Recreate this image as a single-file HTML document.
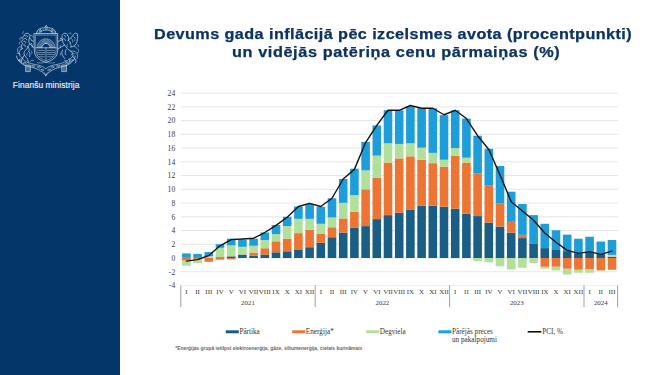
<!DOCTYPE html>
<html><head><meta charset="utf-8">
<style>
html,body{margin:0;padding:0;}
body{width:665px;height:375px;overflow:hidden;background:#fff;position:relative;font-family:"Liberation Sans",sans-serif;}
#side{position:absolute;left:0;top:0;width:120px;height:375px;background:#04366a;}
#brand{position:absolute;left:12.8px;top:79.5px;color:#edf1f6;font-size:8.4px;white-space:nowrap;letter-spacing:0.08px;-webkit-text-stroke:0.15px #edf1f6;}
.t{position:absolute;color:#0b3363;font-weight:bold;font-size:14px;white-space:nowrap;transform-origin:0 0;line-height:16px;-webkit-text-stroke:0.25px #0b3363;}
#chart{position:absolute;left:0;top:0;}
.ax{font-family:"Liberation Serif",serif;font-size:7.6px;fill:#3a3a3a;}
.mo{font-family:"Liberation Serif",serif;font-size:6.9px;fill:#383838;}
.lg{font-family:"Liberation Serif",serif;font-size:7.2px;fill:#333;}
.fn{font-family:"Liberation Sans",sans-serif;font-size:5.3px;font-weight:bold;fill:#666;}
</style></head><body>
<div id="side">
<svg style="position:absolute;left:0;top:0;filter:blur(0.25px)" width="120" height="100" viewBox="0 0 120 100">
<g fill="none" stroke="#d3dde8" stroke-width="0.7" stroke-linecap="round" stroke-linejoin="round">
<!-- stars band -->
<path d="M36.4,34 C36.8,30.6 38.6,28.6 41,28.2 C42.6,27.9 44,27.8 45,27.6 L46.2,25.2 L47.4,27.6 C48.4,27.8 49.8,27.9 51.4,28.2 C53.8,28.6 55.6,30.6 56,34" stroke-width="0.7"/>
<path d="M39,34 C39.6,31.6 42.4,30.2 46.2,30.2 C50,30.2 52.8,31.6 53.4,34" stroke-width="0.5"/>
<path d="M40.4,29.4 l0.45,0.95 1.05,0.1 -0.8,0.7 0.25,1.05 -0.95,-0.6 -0.9,0.6 0.25,-1.05 -0.8,-0.7 1.05,-0.1z" stroke-width="0.5"/>
<path d="M46.2,27 l0.45,0.95 1.05,0.1 -0.8,0.7 0.25,1.05 -0.95,-0.6 -0.9,0.6 0.25,-1.05 -0.8,-0.7 1.05,-0.1z" stroke-width="0.5"/>
<path d="M52,29.4 l0.45,0.95 1.05,0.1 -0.8,0.7 0.25,1.05 -0.95,-0.6 -0.9,0.6 0.25,-1.05 -0.8,-0.7 1.05,-0.1z" stroke-width="0.5"/>
<path d="M38.2,32.6 L37.4,31.4 M43.4,30.6 L43.2,29.2 M49,30.6 L49.2,29.2 M54.2,32.6 L55,31.4" stroke-width="0.45"/>
<!-- shield -->
<path d="M34.3,33.6 L57.7,33.6 L57.7,50.5 C57.7,56.8 52.5,60.8 46,62.2 C39.5,60.8 34.3,56.8 34.3,50.5 Z" stroke-width="0.75"/>
<path d="M35.8,35.1 L56.2,35.1 L56.2,50.4 C56.2,55.8 51.8,59.2 46,60.5 C40.2,59.2 35.8,55.8 35.8,50.4 Z" stroke-width="0.45"/>
<!-- sun -->
<path d="M41.8,47.6 A4.2,4.2 0 0 1 50.2,47.6" stroke-width="0.8"/>
<path d="M37,47.6 A9,9 0 0 1 55,47.6" stroke-width="0.35"/>
<g stroke-width="0.5">
<path d="M41.10,47.60 L37.40,47.60 M41.17,46.75 L37.53,46.11 M41.40,45.92 L37.92,44.66 M41.76,45.15 L38.55,43.30 M42.25,44.45 L39.41,42.07 M42.85,43.85 L40.47,41.01 M43.55,43.36 L41.70,40.15 M44.32,43.00 L43.06,39.52 M45.15,42.77 L44.51,39.13 M46.00,42.70 L46.00,39.00 M46.85,42.77 L47.49,39.13 M47.68,43.00 L48.94,39.52 M48.45,43.36 L50.30,40.15 M49.15,43.85 L51.53,41.01 M49.75,44.45 L52.59,42.07 M50.24,45.15 L53.45,43.30 M50.60,45.92 L54.08,44.66 M50.83,46.75 L54.47,46.11 M50.90,47.60 L54.60,47.60"/>
</g>
<path d="M35.8,47.8 L56.2,47.8" stroke-width="0.7"/>
<!-- lower shield -->
<path d="M46,47.8 L46,60.3" stroke-width="0.55"/>
<path d="M37.5,50.6 C38.8,49.4 40.5,51.4 42,50 C43,51 44,50.2 45,50.9 M37.2,52.6 L44.8,52.6 M37.6,54.6 C39.5,53.6 41.5,55.6 44.5,54.2 M39,56.8 L44.5,56.8" stroke-width="0.5"/>
<path d="M47.2,50.6 C48.6,49.6 50.5,51.4 52,50 C53,51 54,50.3 54.9,50.9 M47.2,52.6 L54.8,52.6 M47.5,54.4 C49.5,53.5 51.5,55.5 54.5,54.4 M47.5,56.8 L53,56.8" stroke-width="0.5"/>
<!-- lion left -->
<path d="M24.2,35.6 C24.4,33.6 26.6,32.6 28.4,33.6 C30,34.4 30.4,36.6 29.4,38 C30.6,38.4 31.6,39.4 31.4,40.6 L33.6,41.2"/>
<path d="M24.2,35.6 C22.6,36.2 22.2,38.2 23.2,39.4 C21.6,40.4 21.4,42.6 22.6,43.8 C21,45 21,47.4 22.6,48.6"/>
<path d="M25.6,36 C26.4,35.4 27.6,35.8 27.8,36.8 M24.6,38.4 C25.6,38 26.8,38.6 26.8,39.8 M23.8,41.2 C25,41 26,41.8 25.8,43 M23.6,44.8 C24.8,44.6 25.8,45.6 25.4,46.8"/>
<path d="M29.4,38 C28.6,40 28.4,42 29.6,43.6 L33.6,47.6 M29.6,43.6 C28.6,46.4 27,49 25.2,50.6 C24,51.8 23.6,53.6 24.4,55.2 L27.6,59 L28.4,62.6 M24.4,55.2 C23.2,57 22,58.4 21.2,60.4 L21.8,63"/>
<path d="M27.4,46.2 C29,47.4 29.6,49.6 28.8,51.6 C30,53 30.4,55 29.6,56.6 M31.2,43.2 C32.2,44.6 32.6,46 32.2,47.2"/>
<path d="M22.6,48.6 C20.4,49.2 19,51.4 19.2,53.8 C19.4,56.2 21,57.8 23,58 M19.2,53.8 C17.6,52.4 17,50 18,48.2 C18.8,46.6 20.6,46.2 21.4,47.4 C22,48.4 21.2,49.6 20.2,49.4" stroke-width="0.55"/>
<path d="M30.2,61.6 C31.2,60.2 32.6,59.8 33.6,60.4 M20,62 C19,61 19,59.6 19.8,58.8" stroke-width="0.5"/>
<!-- griffin right -->
<path d="M67.8,35.6 C67.6,33.6 65.4,32.6 63.6,33.6 C62,34.4 61.6,36.2 62.4,37.4 L60.2,38.8 L62.6,39.2 C62,40.2 60.6,40.8 58.4,41.2"/>
<path d="M67.8,35.6 C69,37 69,39 68,40.4 C69.4,41 70.4,42.2 70.4,43.6"/>
<path d="M64.4,35.6 C65.2,35.4 65.8,36 65.6,36.8 M63.6,38.6 C64.8,38.6 65.6,39.6 65.4,40.8"/>
<path d="M68,40.4 C70,39 72,37 73.4,34.6 C74.4,33.2 76,32.8 77.2,33.6 C78,36.8 77.8,40.6 76.2,43.6 C75,45.8 72.8,47 70.4,47"/>
<path d="M71.4,38.4 C72.6,39.4 73,41 72.4,42.4 M73.6,36.2 C75,37.2 75.4,39 74.8,40.6 M69.8,43.4 C71.2,44.2 71.6,45.6 71,46.8" stroke-width="0.5"/>
<path d="M62.6,39.2 C62.4,41.6 63,43.6 64.6,45 L58.4,48.6 M64.6,45 C66.4,47.6 68.4,50 70.6,51.2 C72.4,52.4 73.4,54.4 72.8,56.4 L69.6,59.6 L69.2,62.8 M72.8,56.4 C74.2,58 75.6,59.6 76,61.4 L75.4,63"/>
<path d="M66.2,49.4 C65,51 64.8,53.2 65.8,55 M62.6,50.2 C61.6,51.8 61.6,53.8 62.6,55.4 L64.6,58.4"/>
<path d="M70.6,51.2 C73.2,50.6 75.8,51.4 77,53.6 C78.2,55.8 77.8,58.4 76,59.6 M77,53.6 C78.6,52.6 79,50.4 78,48.8" stroke-width="0.55"/>
<path d="M67.4,61.8 C66.6,60.4 65.2,60 64.2,60.6" stroke-width="0.5"/>
<g stroke-width="0.5">
<path d="M20.4,40.2 C19.4,39.4 19.6,37.8 20.8,37.4 C21.8,37.2 22.4,38.2 21.8,38.8 M19.8,44.4 C18.8,43.6 19,42 20.2,41.8 M27.6,52.8 C26.4,53.4 26.2,55 27.2,55.6 M31,51 C32.2,51.6 32.4,53 31.6,53.8 M30.4,35.2 C31.6,34.8 32.6,35.6 32.4,36.8 M22.8,33.8 C22.2,32.8 22.8,31.8 23.8,31.8"/>
<path d="M60.8,45 C59.8,45.8 59.8,47.2 60.8,47.8 M61,52.6 C60,53.4 60,55 61,55.6 M67.6,44.2 C66.6,45 66.6,46.4 67.6,47 M74.4,46.6 C75.6,46.2 76.6,47 76.4,48.2 M77.4,44.6 C78.6,44.8 79,46 78.4,46.8 M69,33.2 C70,32.6 71.2,33 71.2,34"/>
</g>
<!-- oak branches / base -->
<path d="M16.4,56 C17.6,61.6 22.4,65.2 29,66.6 C36,68 41.6,70.4 45.8,75.4 C50,70.4 55.6,68 62.6,66.6 C69.2,65.2 74,61.6 75.2,56" stroke-width="0.7"/>
<path d="M22,58.6 C25,62 29.6,63.6 34.6,64.4 C39.6,65.2 43.4,66.6 45.8,68.8 C48.2,66.6 52,65.2 57,64.4 C62,63.6 66.6,62 69.6,58.6" stroke-width="0.6"/>
<g stroke-width="0.55">
<path d="M18.6,60.2 C19.8,59.4 21.2,59.8 21.6,61 C20.6,61.8 19.2,61.4 18.6,60.2z M23.2,63.2 C24.2,62 25.8,62.2 26.4,63.4 C25.4,64.4 23.8,64.2 23.2,63.2z M32,65.8 C33,64.8 34.6,65 35.2,66.2 C34.2,67.2 32.6,67 32,65.8z M37.6,67 C38.6,66 40.2,66.2 40.8,67.4 C39.8,68.4 38.2,68.2 37.6,67z M41.4,69.6 C42.4,68.8 43.8,69.2 44,70.4 C43,71.2 41.8,70.8 41.4,69.6z"/>
<path d="M73,60.2 C71.8,59.4 70.4,59.8 70,61 C71,61.8 72.4,61.4 73,60.2z M68.4,63.2 C67.4,62 65.8,62.2 65.2,63.4 C66.2,64.4 67.8,64.2 68.4,63.2z M59.6,65.8 C58.6,64.8 57,65 56.4,66.2 C57.4,67.2 59,67 59.6,65.8z M54,67 C53,66 51.4,66.2 50.8,67.4 C51.8,68.4 53.4,68.2 54,67z M50.2,69.6 C49.2,68.8 47.8,69.2 47.6,70.4 C48.6,71.2 49.8,70.8 50.2,69.6z"/>
</g>
<path d="M17.2,53.6 C18.6,52.6 20.2,53.4 20.4,55 M74.4,53.6 C73,52.6 71.4,53.4 71.2,55" stroke-width="0.5"/>
<rect x="25.9" y="65" width="4.5" height="6.6" fill="#d3dde8" fill-opacity="0.35" stroke-width="0.6"/>
<rect x="62" y="65" width="4.5" height="6.6" fill="#d3dde8" fill-opacity="0.35" stroke-width="0.6"/>
<path d="M44.4,72.8 L45.8,76.2 L47.2,72.8" stroke-width="0.55"/>
<path d="M37.2,62.6 C39.6,63.4 42.4,63.2 45.8,62.2 C49.2,63.2 52,63.4 54.4,62.6" stroke-width="0.45"/>
</g>
</svg>

<div id="brand">Finanšu ministrija</div>
</div>
<div class="t" id="t1" style="top:25.6px;left:154.3px;transform:scaleX(1.157);letter-spacing:0.37px;">Devums gada inflācijā pēc izcelsmes avota (procentpunkti)</div>
<div class="t" id="t2" style="top:44.4px;left:231.6px;transform:scaleX(1.161);letter-spacing:0.52px;">un vidējās patēriņa cenu pārmaiņas (%)</div>
<svg id="chart" width="665" height="375" viewBox="0 0 665 375">
<line x1="180.8" y1="285.48" x2="617.8" y2="285.48" stroke="#ededed" stroke-width="0.9"/>
<text x="175.2" y="288.28" text-anchor="end" class="ax">-4</text>
<line x1="180.8" y1="271.74" x2="617.8" y2="271.74" stroke="#e3e3e3" stroke-width="0.9"/>
<text x="175.2" y="274.54" text-anchor="end" class="ax">-2</text>
<line x1="180.8" y1="258.00" x2="617.8" y2="258.00" stroke="#e3e3e3" stroke-width="0.9"/>
<text x="175.2" y="260.80" text-anchor="end" class="ax">0</text>
<line x1="180.8" y1="244.26" x2="617.8" y2="244.26" stroke="#e3e3e3" stroke-width="0.9"/>
<text x="175.2" y="247.06" text-anchor="end" class="ax">2</text>
<line x1="180.8" y1="230.52" x2="617.8" y2="230.52" stroke="#e3e3e3" stroke-width="0.9"/>
<text x="175.2" y="233.32" text-anchor="end" class="ax">4</text>
<line x1="180.8" y1="216.78" x2="617.8" y2="216.78" stroke="#e3e3e3" stroke-width="0.9"/>
<text x="175.2" y="219.58" text-anchor="end" class="ax">6</text>
<line x1="180.8" y1="203.04" x2="617.8" y2="203.04" stroke="#e3e3e3" stroke-width="0.9"/>
<text x="175.2" y="205.84" text-anchor="end" class="ax">8</text>
<line x1="180.8" y1="189.30" x2="617.8" y2="189.30" stroke="#e3e3e3" stroke-width="0.9"/>
<text x="175.2" y="192.10" text-anchor="end" class="ax">10</text>
<line x1="180.8" y1="175.56" x2="617.8" y2="175.56" stroke="#e3e3e3" stroke-width="0.9"/>
<text x="175.2" y="178.36" text-anchor="end" class="ax">12</text>
<line x1="180.8" y1="161.82" x2="617.8" y2="161.82" stroke="#e3e3e3" stroke-width="0.9"/>
<text x="175.2" y="164.62" text-anchor="end" class="ax">14</text>
<line x1="180.8" y1="148.08" x2="617.8" y2="148.08" stroke="#e3e3e3" stroke-width="0.9"/>
<text x="175.2" y="150.88" text-anchor="end" class="ax">16</text>
<line x1="180.8" y1="134.34" x2="617.8" y2="134.34" stroke="#e3e3e3" stroke-width="0.9"/>
<text x="175.2" y="137.14" text-anchor="end" class="ax">18</text>
<line x1="180.8" y1="120.60" x2="617.8" y2="120.60" stroke="#e3e3e3" stroke-width="0.9"/>
<text x="175.2" y="123.40" text-anchor="end" class="ax">20</text>
<line x1="180.8" y1="106.86" x2="617.8" y2="106.86" stroke="#e3e3e3" stroke-width="0.9"/>
<text x="175.2" y="109.66" text-anchor="end" class="ax">22</text>
<line x1="180.8" y1="93.12" x2="617.8" y2="93.12" stroke="#e3e3e3" stroke-width="0.9"/>
<text x="175.2" y="95.92" text-anchor="end" class="ax">24</text>
<rect x="182.10" y="257.66" width="8.6" height="0.34" fill="#1a5e85"/>
<rect x="182.10" y="258.00" width="8.6" height="2.61" fill="#ec7533"/>
<rect x="182.10" y="260.61" width="8.6" height="5.15" fill="#b1e09b"/>
<rect x="182.10" y="253.40" width="8.6" height="4.26" fill="#1d9ed8"/>
<rect x="193.30" y="257.86" width="8.6" height="0.14" fill="#1a5e85"/>
<rect x="193.30" y="258.00" width="8.6" height="1.65" fill="#ec7533"/>
<rect x="193.30" y="259.65" width="8.6" height="3.44" fill="#b1e09b"/>
<rect x="193.30" y="253.95" width="8.6" height="3.92" fill="#1d9ed8"/>
<rect x="204.50" y="257.86" width="8.6" height="0.14" fill="#1a5e85"/>
<rect x="204.50" y="258.00" width="8.6" height="3.78" fill="#ec7533"/>
<rect x="204.50" y="256.15" width="8.6" height="1.72" fill="#b1e09b"/>
<rect x="204.50" y="252.02" width="8.6" height="4.12" fill="#1d9ed8"/>
<rect x="215.70" y="257.31" width="8.6" height="0.69" fill="#1a5e85"/>
<rect x="215.70" y="258.00" width="8.6" height="1.65" fill="#ec7533"/>
<rect x="215.70" y="247.83" width="8.6" height="9.48" fill="#b1e09b"/>
<rect x="215.70" y="244.12" width="8.6" height="3.71" fill="#1d9ed8"/>
<rect x="226.90" y="256.35" width="8.6" height="1.65" fill="#1a5e85"/>
<rect x="226.90" y="258.00" width="8.6" height="1.37" fill="#ec7533"/>
<rect x="226.90" y="245.36" width="8.6" height="10.99" fill="#b1e09b"/>
<rect x="226.90" y="238.63" width="8.6" height="6.73" fill="#1d9ed8"/>
<rect x="238.10" y="254.56" width="8.6" height="3.44" fill="#1a5e85"/>
<rect x="238.10" y="246.80" width="8.6" height="7.76" fill="#b1e09b"/>
<rect x="238.10" y="239.66" width="8.6" height="7.14" fill="#1d9ed8"/>
<rect x="249.30" y="255.53" width="8.6" height="2.47" fill="#1a5e85"/>
<rect x="249.30" y="252.50" width="8.6" height="3.02" fill="#ec7533"/>
<rect x="249.30" y="245.77" width="8.6" height="6.73" fill="#b1e09b"/>
<rect x="249.30" y="238.63" width="8.6" height="7.14" fill="#1d9ed8"/>
<rect x="260.50" y="254.56" width="8.6" height="3.44" fill="#1a5e85"/>
<rect x="260.50" y="248.24" width="8.6" height="6.32" fill="#ec7533"/>
<rect x="260.50" y="240.07" width="8.6" height="8.18" fill="#b1e09b"/>
<rect x="260.50" y="232.51" width="8.6" height="7.56" fill="#1d9ed8"/>
<rect x="271.70" y="252.30" width="8.6" height="5.70" fill="#1a5e85"/>
<rect x="271.70" y="241.31" width="8.6" height="10.99" fill="#ec7533"/>
<rect x="271.70" y="234.16" width="8.6" height="7.14" fill="#b1e09b"/>
<rect x="271.70" y="225.02" width="8.6" height="9.14" fill="#1d9ed8"/>
<rect x="282.90" y="251.27" width="8.6" height="6.73" fill="#1a5e85"/>
<rect x="282.90" y="238.63" width="8.6" height="12.64" fill="#ec7533"/>
<rect x="282.90" y="225.99" width="8.6" height="12.64" fill="#b1e09b"/>
<rect x="282.90" y="216.78" width="8.6" height="9.21" fill="#1d9ed8"/>
<rect x="294.10" y="249.41" width="8.6" height="8.59" fill="#1a5e85"/>
<rect x="294.10" y="233.13" width="8.6" height="16.28" fill="#ec7533"/>
<rect x="294.10" y="218.84" width="8.6" height="14.29" fill="#b1e09b"/>
<rect x="294.10" y="206.47" width="8.6" height="12.37" fill="#1d9ed8"/>
<rect x="305.30" y="247.21" width="8.6" height="10.79" fill="#1a5e85"/>
<rect x="305.30" y="229.83" width="8.6" height="17.38" fill="#ec7533"/>
<rect x="305.30" y="218.84" width="8.6" height="10.99" fill="#b1e09b"/>
<rect x="305.30" y="204.00" width="8.6" height="14.84" fill="#1d9ed8"/>
<rect x="316.50" y="242.89" width="8.6" height="15.11" fill="#1a5e85"/>
<rect x="316.50" y="233.54" width="8.6" height="9.34" fill="#ec7533"/>
<rect x="316.50" y="223.79" width="8.6" height="9.76" fill="#b1e09b"/>
<rect x="316.50" y="206.75" width="8.6" height="17.04" fill="#1d9ed8"/>
<rect x="327.70" y="237.25" width="8.6" height="20.75" fill="#1a5e85"/>
<rect x="327.70" y="227.29" width="8.6" height="9.96" fill="#ec7533"/>
<rect x="327.70" y="217.47" width="8.6" height="9.82" fill="#b1e09b"/>
<rect x="327.70" y="198.23" width="8.6" height="19.24" fill="#1d9ed8"/>
<rect x="338.90" y="232.58" width="8.6" height="25.42" fill="#1a5e85"/>
<rect x="338.90" y="218.43" width="8.6" height="14.15" fill="#ec7533"/>
<rect x="338.90" y="202.83" width="8.6" height="15.59" fill="#b1e09b"/>
<rect x="338.90" y="179.00" width="8.6" height="23.84" fill="#1d9ed8"/>
<rect x="350.10" y="227.50" width="8.6" height="30.50" fill="#1a5e85"/>
<rect x="350.10" y="211.63" width="8.6" height="15.87" fill="#ec7533"/>
<rect x="350.10" y="195.14" width="8.6" height="16.49" fill="#b1e09b"/>
<rect x="350.10" y="168.69" width="8.6" height="26.45" fill="#1d9ed8"/>
<rect x="361.30" y="226.12" width="8.6" height="31.88" fill="#1a5e85"/>
<rect x="361.30" y="189.30" width="8.6" height="36.82" fill="#ec7533"/>
<rect x="361.30" y="170.41" width="8.6" height="18.89" fill="#b1e09b"/>
<rect x="361.30" y="141.90" width="8.6" height="28.51" fill="#1d9ed8"/>
<rect x="372.50" y="219.12" width="8.6" height="38.88" fill="#1a5e85"/>
<rect x="372.50" y="177.62" width="8.6" height="41.49" fill="#ec7533"/>
<rect x="372.50" y="155.64" width="8.6" height="21.98" fill="#b1e09b"/>
<rect x="372.50" y="125.41" width="8.6" height="30.23" fill="#1d9ed8"/>
<rect x="383.70" y="215.13" width="8.6" height="42.87" fill="#1a5e85"/>
<rect x="383.70" y="162.51" width="8.6" height="52.62" fill="#ec7533"/>
<rect x="383.70" y="143.27" width="8.6" height="19.24" fill="#b1e09b"/>
<rect x="383.70" y="110.29" width="8.6" height="32.98" fill="#1d9ed8"/>
<rect x="394.90" y="212.80" width="8.6" height="45.20" fill="#1a5e85"/>
<rect x="394.90" y="158.38" width="8.6" height="54.41" fill="#ec7533"/>
<rect x="394.90" y="143.96" width="8.6" height="14.43" fill="#b1e09b"/>
<rect x="394.90" y="110.29" width="8.6" height="33.66" fill="#1d9ed8"/>
<rect x="406.10" y="209.91" width="8.6" height="48.09" fill="#1a5e85"/>
<rect x="406.10" y="156.32" width="8.6" height="53.59" fill="#ec7533"/>
<rect x="406.10" y="143.27" width="8.6" height="13.05" fill="#b1e09b"/>
<rect x="406.10" y="106.17" width="8.6" height="37.10" fill="#1d9ed8"/>
<rect x="417.30" y="205.79" width="8.6" height="52.21" fill="#1a5e85"/>
<rect x="417.30" y="159.76" width="8.6" height="46.03" fill="#ec7533"/>
<rect x="417.30" y="147.74" width="8.6" height="12.02" fill="#b1e09b"/>
<rect x="417.30" y="108.23" width="8.6" height="39.50" fill="#1d9ed8"/>
<rect x="428.50" y="205.79" width="8.6" height="52.21" fill="#1a5e85"/>
<rect x="428.50" y="163.19" width="8.6" height="42.59" fill="#ec7533"/>
<rect x="428.50" y="152.89" width="8.6" height="10.30" fill="#b1e09b"/>
<rect x="428.50" y="108.23" width="8.6" height="44.66" fill="#1d9ed8"/>
<rect x="439.70" y="206.75" width="8.6" height="51.25" fill="#1a5e85"/>
<rect x="439.70" y="166.63" width="8.6" height="40.12" fill="#ec7533"/>
<rect x="439.70" y="159.76" width="8.6" height="6.87" fill="#b1e09b"/>
<rect x="439.70" y="115.10" width="8.6" height="44.66" fill="#1d9ed8"/>
<rect x="450.90" y="208.67" width="8.6" height="49.33" fill="#1a5e85"/>
<rect x="450.90" y="155.64" width="8.6" height="53.04" fill="#ec7533"/>
<rect x="450.90" y="148.08" width="8.6" height="7.56" fill="#b1e09b"/>
<rect x="450.90" y="110.29" width="8.6" height="37.79" fill="#1d9ed8"/>
<rect x="462.10" y="213.76" width="8.6" height="44.24" fill="#1a5e85"/>
<rect x="462.10" y="162.51" width="8.6" height="51.25" fill="#ec7533"/>
<rect x="462.10" y="157.70" width="8.6" height="4.81" fill="#b1e09b"/>
<rect x="462.10" y="118.54" width="8.6" height="39.16" fill="#1d9ed8"/>
<rect x="473.30" y="216.09" width="8.6" height="41.91" fill="#1a5e85"/>
<rect x="473.30" y="173.50" width="8.6" height="42.59" fill="#ec7533"/>
<rect x="473.30" y="258.00" width="8.6" height="2.95" fill="#b1e09b"/>
<rect x="473.30" y="135.71" width="8.6" height="37.79" fill="#1d9ed8"/>
<rect x="484.50" y="222.55" width="8.6" height="35.45" fill="#1a5e85"/>
<rect x="484.50" y="185.18" width="8.6" height="37.37" fill="#ec7533"/>
<rect x="484.50" y="258.00" width="8.6" height="4.33" fill="#b1e09b"/>
<rect x="484.50" y="148.77" width="8.6" height="36.41" fill="#1d9ed8"/>
<rect x="495.70" y="226.54" width="8.6" height="31.46" fill="#1a5e85"/>
<rect x="495.70" y="203.52" width="8.6" height="23.01" fill="#ec7533"/>
<rect x="495.70" y="258.00" width="8.6" height="8.38" fill="#b1e09b"/>
<rect x="495.70" y="165.94" width="8.6" height="37.58" fill="#1d9ed8"/>
<rect x="506.90" y="232.58" width="8.6" height="25.42" fill="#1a5e85"/>
<rect x="506.90" y="221.86" width="8.6" height="10.72" fill="#ec7533"/>
<rect x="506.90" y="258.00" width="8.6" height="11.47" fill="#b1e09b"/>
<rect x="506.90" y="191.70" width="8.6" height="30.16" fill="#1d9ed8"/>
<rect x="518.10" y="238.08" width="8.6" height="19.92" fill="#1a5e85"/>
<rect x="518.10" y="234.85" width="8.6" height="3.23" fill="#ec7533"/>
<rect x="518.10" y="258.00" width="8.6" height="9.76" fill="#b1e09b"/>
<rect x="518.10" y="204.00" width="8.6" height="30.85" fill="#1d9ed8"/>
<rect x="529.30" y="243.92" width="8.6" height="14.08" fill="#1a5e85"/>
<rect x="529.30" y="258.00" width="8.6" height="0.34" fill="#ec7533"/>
<rect x="529.30" y="258.34" width="8.6" height="4.67" fill="#b1e09b"/>
<rect x="529.30" y="215.13" width="8.6" height="28.79" fill="#1d9ed8"/>
<rect x="540.50" y="248.11" width="8.6" height="9.89" fill="#1a5e85"/>
<rect x="540.50" y="258.00" width="8.6" height="8.79" fill="#ec7533"/>
<rect x="540.50" y="266.79" width="8.6" height="1.85" fill="#b1e09b"/>
<rect x="540.50" y="223.79" width="8.6" height="24.32" fill="#1d9ed8"/>
<rect x="551.70" y="249.96" width="8.6" height="8.04" fill="#1a5e85"/>
<rect x="551.70" y="258.00" width="8.6" height="8.79" fill="#ec7533"/>
<rect x="551.70" y="266.79" width="8.6" height="3.64" fill="#b1e09b"/>
<rect x="551.70" y="230.25" width="8.6" height="19.72" fill="#1d9ed8"/>
<rect x="562.90" y="251.13" width="8.6" height="6.87" fill="#1a5e85"/>
<rect x="562.90" y="258.00" width="8.6" height="10.79" fill="#ec7533"/>
<rect x="562.90" y="268.79" width="8.6" height="5.70" fill="#b1e09b"/>
<rect x="562.90" y="234.64" width="8.6" height="16.49" fill="#1d9ed8"/>
<rect x="574.10" y="253.19" width="8.6" height="4.81" fill="#1a5e85"/>
<rect x="574.10" y="258.00" width="8.6" height="11.75" fill="#ec7533"/>
<rect x="574.10" y="269.75" width="8.6" height="3.02" fill="#b1e09b"/>
<rect x="574.10" y="238.76" width="8.6" height="14.43" fill="#1d9ed8"/>
<rect x="585.30" y="251.82" width="8.6" height="6.18" fill="#1a5e85"/>
<rect x="585.30" y="258.00" width="8.6" height="11.47" fill="#ec7533"/>
<rect x="585.30" y="269.47" width="8.6" height="3.30" fill="#b1e09b"/>
<rect x="585.30" y="236.77" width="8.6" height="15.05" fill="#1d9ed8"/>
<rect x="596.50" y="253.88" width="8.6" height="4.12" fill="#1a5e85"/>
<rect x="596.50" y="258.00" width="8.6" height="12.43" fill="#ec7533"/>
<rect x="596.50" y="270.43" width="8.6" height="0.27" fill="#b1e09b"/>
<rect x="596.50" y="241.58" width="8.6" height="12.30" fill="#1d9ed8"/>
<rect x="607.70" y="256.69" width="8.6" height="1.31" fill="#1a5e85"/>
<rect x="607.70" y="258.00" width="8.6" height="11.75" fill="#ec7533"/>
<rect x="607.70" y="254.91" width="8.6" height="1.79" fill="#b1e09b"/>
<rect x="607.70" y="240.00" width="8.6" height="14.91" fill="#1d9ed8"/>
<path d="M186.40,261.09 C186.40,261.09 197.60,259.65 197.60,259.65 C197.60,259.65 208.80,255.53 208.80,255.53 C208.80,255.53 220.00,245.77 220.00,245.77 C220.00,245.77 231.20,239.66 231.20,239.66 C231.20,239.66 242.40,239.04 242.40,239.04 C242.40,239.04 253.60,238.21 253.60,238.21 C253.60,238.21 264.80,232.51 264.80,232.51 C264.80,232.51 276.00,225.37 276.00,225.37 C276.00,225.37 287.20,217.26 287.20,217.26 C287.20,217.26 298.40,206.47 298.40,206.47 C298.40,206.47 309.60,203.38 309.60,203.38 C309.60,203.38 320.80,206.47 320.80,206.47 C320.80,206.47 332.00,198.23 332.00,198.23 C332.00,198.23 343.20,179.00 343.20,179.00 C343.20,179.00 354.40,169.38 354.40,169.38 C354.40,169.38 365.60,142.58 365.60,142.58 C365.60,142.58 376.80,125.41 376.80,125.41 C376.80,125.41 388.00,110.29 388.00,110.29 C388.00,110.29 399.20,110.29 399.20,110.29 C399.20,110.29 410.40,105.49 410.40,105.49 C410.40,105.49 421.60,108.23 421.60,108.23 C421.60,108.23 432.80,108.23 432.80,108.23 C432.80,108.23 444.00,114.76 444.00,114.76 C444.00,114.76 455.20,110.29 455.20,110.29 C455.20,110.29 466.40,118.54 466.40,118.54 C466.40,118.54 477.60,135.71 477.60,135.71 C477.60,135.71 488.80,149.45 488.80,149.45 C488.80,149.45 500.00,174.87 500.00,174.87 C500.00,174.87 511.20,201.67 511.20,201.67 C511.20,201.67 522.40,210.94 522.40,210.94 C522.40,210.94 533.60,220.22 533.60,220.22 C533.60,220.22 544.80,232.99 544.80,232.99 C544.80,232.99 556.00,242.27 556.00,242.27 C556.00,242.27 567.20,250.44 567.20,250.44 C567.20,250.44 578.40,253.33 578.40,253.33 C578.40,253.33 589.60,251.68 589.60,251.68 C589.60,251.68 600.80,254.36 600.80,254.36 C600.80,254.36 612.00,251.20 612.00,251.20" fill="none" stroke="#141414" stroke-width="1.4" stroke-linejoin="round" stroke-linecap="round"/>
<text x="186.40" y="294.3" text-anchor="middle" class="mo">I</text>
<text x="197.60" y="294.3" text-anchor="middle" class="mo">II</text>
<text x="208.80" y="294.3" text-anchor="middle" class="mo">III</text>
<text x="220.00" y="294.3" text-anchor="middle" class="mo">IV</text>
<text x="231.20" y="294.3" text-anchor="middle" class="mo">V</text>
<text x="242.40" y="294.3" text-anchor="middle" class="mo">VI</text>
<text x="253.60" y="294.3" text-anchor="middle" class="mo">VII</text>
<text x="264.80" y="294.3" text-anchor="middle" class="mo">VIII</text>
<text x="276.00" y="294.3" text-anchor="middle" class="mo">IX</text>
<text x="287.20" y="294.3" text-anchor="middle" class="mo">X</text>
<text x="298.40" y="294.3" text-anchor="middle" class="mo">XI</text>
<text x="309.60" y="294.3" text-anchor="middle" class="mo">XII</text>
<text x="320.80" y="294.3" text-anchor="middle" class="mo">I</text>
<text x="332.00" y="294.3" text-anchor="middle" class="mo">II</text>
<text x="343.20" y="294.3" text-anchor="middle" class="mo">III</text>
<text x="354.40" y="294.3" text-anchor="middle" class="mo">IV</text>
<text x="365.60" y="294.3" text-anchor="middle" class="mo">V</text>
<text x="376.80" y="294.3" text-anchor="middle" class="mo">VI</text>
<text x="388.00" y="294.3" text-anchor="middle" class="mo">VII</text>
<text x="399.20" y="294.3" text-anchor="middle" class="mo">VIII</text>
<text x="410.40" y="294.3" text-anchor="middle" class="mo">IX</text>
<text x="421.60" y="294.3" text-anchor="middle" class="mo">X</text>
<text x="432.80" y="294.3" text-anchor="middle" class="mo">XI</text>
<text x="444.00" y="294.3" text-anchor="middle" class="mo">XII</text>
<text x="455.20" y="294.3" text-anchor="middle" class="mo">I</text>
<text x="466.40" y="294.3" text-anchor="middle" class="mo">II</text>
<text x="477.60" y="294.3" text-anchor="middle" class="mo">III</text>
<text x="488.80" y="294.3" text-anchor="middle" class="mo">IV</text>
<text x="500.00" y="294.3" text-anchor="middle" class="mo">V</text>
<text x="511.20" y="294.3" text-anchor="middle" class="mo">VI</text>
<text x="522.40" y="294.3" text-anchor="middle" class="mo">VII</text>
<text x="533.60" y="294.3" text-anchor="middle" class="mo">VIII</text>
<text x="544.80" y="294.3" text-anchor="middle" class="mo">IX</text>
<text x="556.00" y="294.3" text-anchor="middle" class="mo">X</text>
<text x="567.20" y="294.3" text-anchor="middle" class="mo">XI</text>
<text x="578.40" y="294.3" text-anchor="middle" class="mo">XII</text>
<text x="589.60" y="294.3" text-anchor="middle" class="mo">I</text>
<text x="600.80" y="294.3" text-anchor="middle" class="mo">II</text>
<text x="612.00" y="294.3" text-anchor="middle" class="mo">III</text>
<line x1="180.80" y1="285.3" x2="180.80" y2="307.2" stroke="#8a8a8a" stroke-width="0.8"/>
<line x1="315.20" y1="285.3" x2="315.20" y2="307.2" stroke="#8a8a8a" stroke-width="0.8"/>
<line x1="449.60" y1="285.3" x2="449.60" y2="307.2" stroke="#8a8a8a" stroke-width="0.8"/>
<line x1="584.00" y1="285.3" x2="584.00" y2="307.2" stroke="#8a8a8a" stroke-width="0.8"/>
<line x1="617.60" y1="285.3" x2="617.60" y2="307.2" stroke="#8a8a8a" stroke-width="0.8"/>
<text x="248.00" y="304.7" text-anchor="middle" class="mo">2021</text>
<text x="382.40" y="304.7" text-anchor="middle" class="mo">2022</text>
<text x="516.80" y="304.7" text-anchor="middle" class="mo">2023</text>
<text x="600.80" y="304.7" text-anchor="middle" class="mo">2024</text>
<rect x="225.8" y="330.3" width="13" height="3" fill="#1a5e85"/>
<text x="239.4" y="333.8" class="lg">Pārtika</text>
<rect x="292.2" y="330.3" width="13" height="3" fill="#ec7533"/>
<text x="305.8" y="333.8" class="lg">Enerģija*</text>
<rect x="366.2" y="330.3" width="13" height="3" fill="#b1e09b"/>
<text x="379.8" y="333.8" class="lg">Degviela</text>
<rect x="438.4" y="330.3" width="13" height="3" fill="#1d9ed8"/>
<text x="452.0" y="333.8" class="lg">Pārējās preces</text>
<text x="452.0" y="342.0" class="lg">un pakalpojumi</text>
<line x1="527.7" y1="331.8" x2="541.3" y2="331.8" stroke="#111" stroke-width="1.6"/>
<text x="542.2" y="333.8" class="lg">PCI, %</text>
<text x="175.3" y="350.3" id="fn" class="fn" textLength="187" lengthAdjust="spacingAndGlyphs">*Enerģijas grupā ietilpst elektroenerģija, gāze, siltumenerģija, cietais kurināmais</text>
</svg>
</body></html>
